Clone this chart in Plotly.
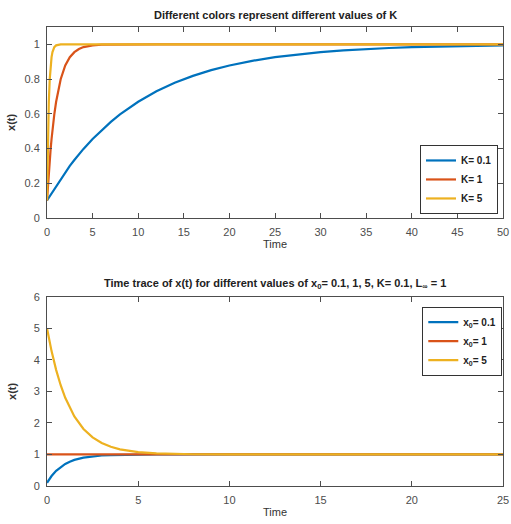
import plotly.graph_objects as go

# ---- Top panel data (different K) ----
t_top = [0, 0.05, 0.1, 0.15, 0.2, 0.3, 0.4, 0.5, 0.6, 0.8, 1, 1.25, 1.5, 2, 2.5, 3, 3.5, 4, 5, 6, 7, 8,
         10, 12, 14, 16, 18, 20, 22.5, 25, 27.5, 30, 32.5, 35, 37.5, 40, 42.5, 45, 47.5, 50]
x_k01 = [0.1, 0.104, 0.109, 0.113, 0.118, 0.127, 0.135, 0.144, 0.152, 0.169, 0.186, 0.206, 0.225, 0.263,
         0.299, 0.333, 0.366, 0.397, 0.454, 0.506, 0.553, 0.596, 0.669, 0.729, 0.778, 0.818, 0.851, 0.878,
         0.905, 0.926, 0.942, 0.955, 0.965, 0.973, 0.979, 0.984, 0.987, 0.990, 0.992, 0.994]
x_k1 = [0.1, 0.144, 0.186, 0.225, 0.263, 0.333, 0.397, 0.454, 0.506, 0.596, 0.669, 0.742, 0.799, 0.878,
        0.926, 0.955, 0.973, 0.984, 0.994, 0.998, 0.999, 1.0, 1.0, 1.0, 1.0, 1.0, 1.0, 1.0,
        1.0, 1.0, 1.0, 1.0, 1.0, 1.0, 1.0, 1.0, 1.0, 1.0, 1.0, 1.0]
x_k5 = [0.1, 0.299, 0.454, 0.575, 0.669, 0.799, 0.878, 0.926, 0.955, 0.984, 0.994, 0.998, 1.0, 1.0,
        1.0, 1.0, 1.0, 1.0, 1.0, 1.0, 1.0, 1.0, 1.0, 1.0, 1.0, 1.0, 1.0, 1.0,
        1.0, 1.0, 1.0, 1.0, 1.0, 1.0, 1.0, 1.0, 1.0, 1.0, 1.0, 1.0]
top_names = ["<b>K= 0.1</b>", "<b>K= 1</b>", "<b>K= 5</b>"]

# ---- Bottom panel data (different x0) ----
t_bot = [0, 0.25, 0.5, 0.75, 1, 1.25, 1.5, 2, 2.5, 3, 3.5, 4, 4.5, 5, 6, 7, 8, 10, 15, 20, 25]
x_x01 = [0.1, 0.316, 0.481, 0.606, 0.700, 0.772, 0.827, 0.900, 0.942, 0.967, 0.981, 0.989, 0.994, 0.996,
         0.999, 1.0, 1.0, 1.0, 1.0, 1.0, 1.0]
x_x1 = [1.0] * 21
x_x5 = [5.0, 4.275, 3.681, 3.195, 2.797, 2.472, 2.205, 1.808, 1.541, 1.363, 1.243, 1.163, 1.109, 1.073,
        1.033, 1.015, 1.007, 1.001, 1.0, 1.0, 1.0]
bot_names = ["<b>x<sub>0</sub>= 0.1</b>", "<b>x<sub>0</sub>= 1</b>", "<b>x<sub>0</sub>= 5</b>"]

colors = ["#0072BD", "#D95319", "#EDB120"]
FONT = "Liberation Sans, Arial, sans-serif"
AX = "#4d4d4d"

fig = go.Figure()
for name, ys, c in zip(top_names, [x_k01, x_k1, x_k5], colors):
    fig.add_trace(go.Scatter(x=t_top, y=ys, mode="lines", name=name, line=dict(color=c, width=2.2),
                             xaxis="x", yaxis="y", legend="legend"))
for name, ys, c in zip(bot_names, [x_x01, x_x1, x_x5], colors):
    fig.add_trace(go.Scatter(x=t_bot, y=ys, mode="lines", name=name, line=dict(color=c, width=2.2),
                             xaxis="x2", yaxis="y2", legend="legend2"))

axcommon = dict(showline=True, linecolor=AX, linewidth=1, mirror="ticks", ticks="inside", ticklen=5,
                tickcolor=AX, showgrid=False, zeroline=False, ticklabelstandoff=4,
                ticklabeloverflow="allow", tickfont=dict(family=FONT, size=11, color=AX))
title_font = dict(family=FONT, size=11, color="#333333")

fig.update_layout(
    width=511, height=524, autosize=False, plot_bgcolor="white", paper_bgcolor="white",
    margin=dict(l=47, r=2, t=27, b=38),
    font=dict(family=FONT, color="#333333"),
    xaxis=dict(domain=[0, 1], range=[0, 50], tick0=0, dtick=5, anchor="y",
               title=dict(text="Time", standoff=3, font=title_font), **axcommon),
    yaxis=dict(domain=[0.5845, 1], range=[0, 1.1], tickvals=[0, 0.2, 0.4, 0.6, 0.8, 1],
               ticktext=["0", "0.2", "0.4", "0.6", "0.8", "1"], anchor="x",
               title=dict(text="<b>x(t)</b>", standoff=6, font=title_font), **axcommon),
    xaxis2=dict(domain=[0, 1], range=[0, 25], tick0=0, dtick=5, anchor="y2",
                title=dict(text="Time", standoff=3, font=title_font), **axcommon),
    yaxis2=dict(domain=[0, 0.4124], range=[0, 6], dtick=1, anchor="x2",
                title=dict(text="<b>x(t)</b>", standoff=14, font=title_font), **axcommon),
    legend=dict(x=0.818, y=0.743, xanchor="left", yanchor="top", xref="paper", yref="paper",
                bgcolor="white", bordercolor="#333333", borderwidth=1,
                font=dict(family=FONT, size=10, color="#222222"), tracegroupgap=0, itemwidth=30),
    legend2=dict(x=0.823, y=0.3906, xanchor="left", yanchor="top", xref="paper", yref="paper",
                 bgcolor="white", bordercolor="#333333", borderwidth=1,
                 font=dict(family=FONT, size=10, color="#222222"), tracegroupgap=0, itemwidth=30),
    showlegend=True,
    annotations=[
        dict(text="<b>Different colors represent different values of K</b>", x=0.5, y=1, xref="paper",
             yref="paper", xanchor="center", yanchor="bottom", yshift=4, showarrow=False,
             font=dict(family=FONT, size=11, color="#222222")),
        dict(text="<b>Time trace of x(t) for different values of x<sub>0</sub>= 0.1, 1, 5, K= 0.1, L<sub>∞</sub> = 1</b>",
             x=0.5, y=0.4124, xref="paper", yref="paper", xanchor="center", yanchor="bottom", yshift=4,
             showarrow=False, font=dict(family=FONT, size=11, color="#222222")),
    ],
)

fig.write_html("out.html", config={"displayModeBar": False},
               post_script="document.body.style.margin='0';")
